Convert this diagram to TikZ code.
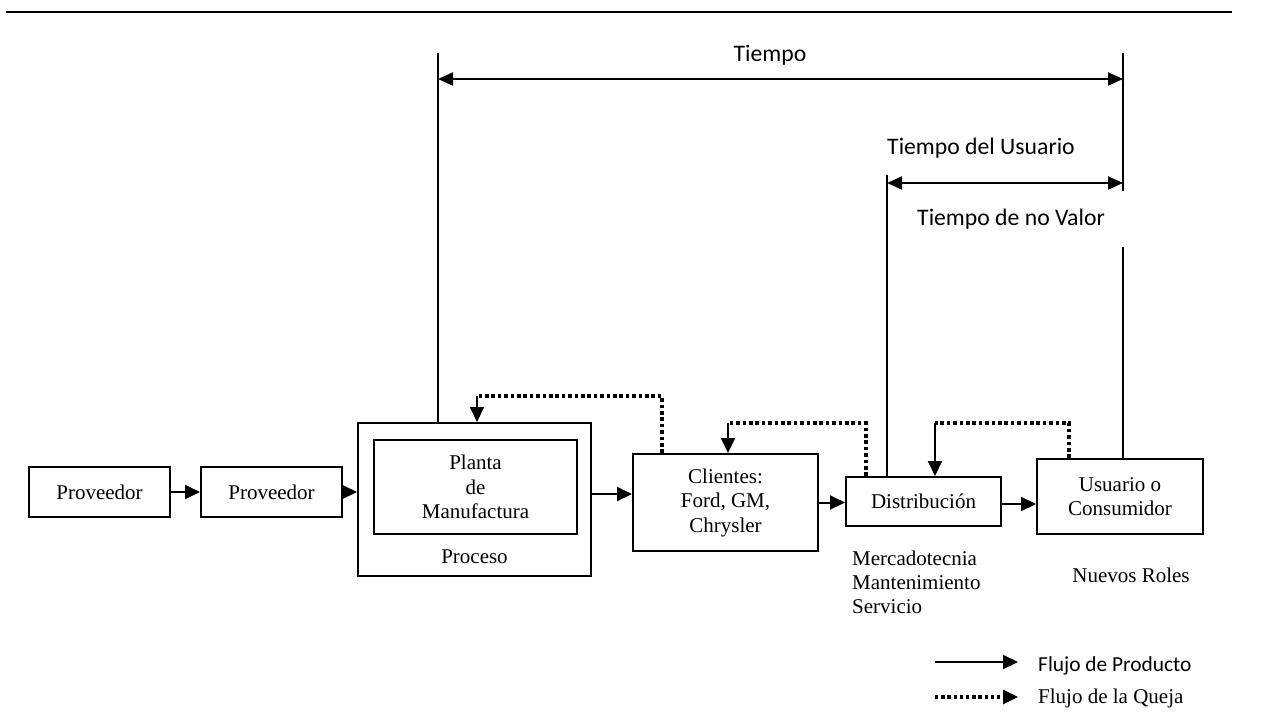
\documentclass[tikz,border=0pt]{standalone}
\usepackage{fontspec}
\setmainfont{Liberation Serif}
\newfontfamily\calibri{Carlito}
\usetikzlibrary{arrows.meta,calc}

\begin{document}
\begin{tikzpicture}[x=1pt,y=-1pt,
  box/.style={draw,line width=2pt,inner sep=0pt,align=center,
    font=\fontsize{21}{24.5}\selectfont},
  flow/.style={line width=2pt,-{Triangle[length=15pt,width=14pt]}},
  dotline/.style={line width=3.6pt,dash pattern=on 3.6pt off 2.8pt},
  span/.style={line width=2pt,{Triangle[length=15pt,width=13pt]}-{Triangle[length=15pt,width=13pt]}},
  guide/.style={line width=1.2pt},
  serif/.style={font=\fontsize{21}{24}\selectfont,inner sep=0pt},
  sans/.style={font=\calibri\fontsize{23.7}{28}\selectfont,inner sep=0pt},
]
\useasboundingbox (0,0) rectangle (1266,715);

% rule across the top
\draw[line width=2pt] (6,12) -- (1232,12);

% process chain
\node[box,minimum width=141pt,minimum height=50pt] (prov1) at (99.5,492) {Proveedor};
\node[box,minimum width=141pt,minimum height=50pt] (prov2) at (271.5,492) {Proveedor};
\node[box,minimum width=233pt,minimum height=153pt] (proc) at (474.5,499.5) {};
\node[box,minimum width=203pt,minimum height=94pt] (plant) at (475.5,487) {Planta\\de\\Manufactura};
\node[serif] (proclbl) at (474.5,557) {Proceso};
\node[box,minimum width=185pt,minimum height=97pt] (cli) at (725.5,502.5) {Clientes:\\Ford, GM,\\Chrysler};
\node[box,minimum width=155pt,minimum height=49pt] (dist) at (923.5,501.5) {Distribución};
\node[box,minimum width=166pt,minimum height=75pt] (usr) at (1120,496.5) {Usuario o\\Consumidor};

\node[serif,anchor=west,align=left] (roles1) at (852,582) {Mercadotecnia\\Mantenimiento\\Servicio};
\node[serif] (roles2) at (1131,575) {Nuevos Roles};

% product flow
\draw[flow] (prov1.east) -- (prov2.west);
\draw[flow] (prov2.east) -- (prov2.east -| proc.west);
\draw[flow] ([yshift=5.5pt]proc.east) -- ([yshift=5.5pt]proc.east -| cli.west);
\draw[flow] (cli.east) -- (cli.east -| dist.west);
\draw[flow] ([yshift=-2.5pt]dist.east) -- ([yshift=-2.5pt]dist.east -| usr.west);

% complaint flow
\coordinate (c1) at (662,396);
\coordinate (c2) at (477,396);
\draw[dotline] (c1 |- cli.north) -- (c1) -- (c2);
\draw[flow] (c2) -- (c2 |- proc.north);

\coordinate (d1) at (866,423);
\coordinate (d2) at (728,423);
\draw[dotline] (d1 |- dist.north) -- (d1) -- (d2);
\draw[flow] (d2) -- (d2 |- cli.north);

\coordinate (e1) at (1069,423);
\coordinate (e2) at (935,423);
\draw[dotline] (e1 |- usr.north) -- (e1) -- (e2);
\draw[flow] (e2) -- (e2 |- dist.north);

% time spans
\coordinate (tL) at (438,53);
\coordinate (tR) at (1123,53);
\coordinate (tRgap) at (1123,191);
\coordinate (tRlow) at (1123,247);
\coordinate (tM) at (887,175);
\coordinate (yA) at (0,79);
\coordinate (yB) at (0,183);
\draw[guide] (tL) -- (tL |- proc.north);
\draw[guide] (tR) -- (tRgap);
\draw[guide] (tRlow) -- (tRlow |- usr.north);
\draw[guide] (tM) -- (tM |- dist.north);
\draw[span] (tL |- yA) -- (tR |- yA);
\draw[span] (tM |- yB) -- (tR |- yB);

\node[sans,anchor=base] (tiempo) at (770,61) {Tiempo};
\node[sans,anchor=base west] (tusr) at (887,154) {Tiempo del Usuario};
\node[sans,anchor=base west] (tnv) at (917,225) {Tiempo de no Valor};

% legend
\coordinate (lg1s) at (935,662);
\coordinate (lg1e) at (1018,662);
\coordinate (lg2s) at (935,697);
\coordinate (lg2e) at (1018,697);
\draw[flow] (lg1s) -- (lg1e);
\draw[line width=3.2pt,dash pattern=on 3.4pt off 2.8pt,-{Triangle[length=15pt,width=14pt]}] (lg2s) -- (lg2e);
\node[font=\calibri\fontsize{21.4}{24}\selectfont,inner sep=0pt,anchor=base west] (lgt1) at (1038,671) {Flujo de Producto};
\node[serif,anchor=base west] (lgt2) at (1038,703) {Flujo de la Queja};
\end{tikzpicture}
\end{document}
